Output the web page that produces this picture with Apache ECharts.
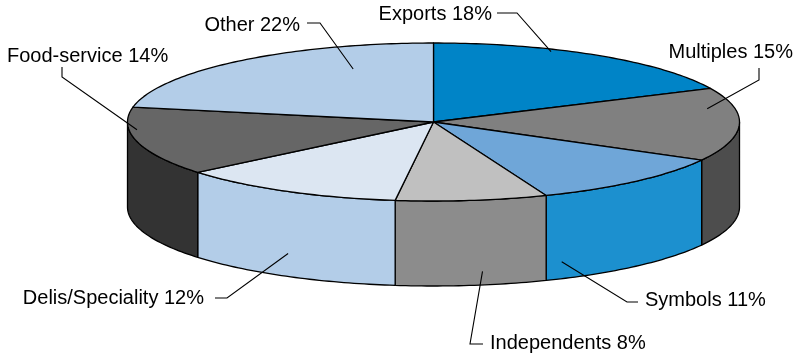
<!DOCTYPE html>
<html>
<head>
<meta charset="utf-8">
<script src="https://cdn.jsdelivr.net/npm/echarts@6/dist/echarts.min.js"></script>
<style>
  html, body { margin: 0; padding: 0; background: #ffffff; }
  #chart { width: 799px; height: 356px; }
</style>
</head>
<body>
<div id="chart"></div>
<script>
// Market share by channel, clockwise from 12 o'clock
const categories = ['Exports', 'Multiples', 'Symbols', 'Independents', 'Delis/Speciality', 'Food-service', 'Other'];
const shares = [18, 15, 11, 8, 12, 14, 22];

// Face colours: top surface and outer wall of each slice
const topColors  = ['#0084C7', '#808080', '#6FA6D8', '#C0C0C0', '#DCE6F2', '#666666', '#B3CDE8'];
const wallColors = ['#005E8E', '#4D4D4D', '#1C90CF', '#8C8C8C', '#B3CDE8', '#333333', '#8DA6C2'];

// Projected pie geometry (pixels)
const PIE = { cx: 433.5, cy: 122, rx: 306, ry: 79, depth: 85 };

// Label placement: where the leader touches the slice (fraction along the arc,
// radius on the top face or height on the wall), the leader bend and the text box
const labelLayout = [
  { t: 0.36, r: 0.97, bend: [[517, 13], [497, 13]], x: 492, y: 14,  align: 'right' },
  { t: 0.27, r: 0.91, bend: [[759, 80], [759, 68]], x: 793, y: 52,  align: 'right' },
  { t: 0.92, h: 0.80, bend: [[627, 302], [638, 302]], x: 645, y: 300, align: 'left' },
  { t: 0.43, h: 0.84, bend: [[470, 344], [483, 344]], x: 490, y: 343, align: 'left' },
  { t: 0.49, h: 0.73, bend: [[227, 298], [215, 298]], x: 204, y: 298, align: 'right' },
  { t: 0.67, r: 0.974, bend: [[62, 77], [62, 67]], x: 7, y: 56, align: 'left' },
  { t: 0.73, r: 0.72, bend: [[320, 23], [307, 23]], x: 300, y: 25, align: 'right' }
];

// Slice angles in degrees, measured clockwise from the top
const total = shares.reduce((a, b) => a + b, 0);
const slices = [];
let acc = 0;
shares.forEach(function (v) {
  const a0 = acc / total * 360;
  acc += v;
  slices.push({ a0: a0, a1: acc / total * 360 });
});

function pt(theta, r, dy) {
  const rad = theta * Math.PI / 180;
  return [PIE.cx + PIE.rx * r * Math.sin(rad), PIE.cy - PIE.ry * r * Math.cos(rad) + (dy || 0)];
}

function arc(a0, a1, r, dy) {
  const pts = [];
  const n = Math.max(2, Math.ceil(Math.abs(a1 - a0)));
  for (let k = 0; k <= n; k++) pts.push(pt(a0 + (a1 - a0) * k / n, r, dy));
  return pts;
}

const edge = { stroke: '#000000', lineWidth: 1.3, lineJoin: 'round' };

function renderWall(params) {
  const s = slices[params.dataIndex];
  const a0 = Math.max(s.a0, 90), a1 = Math.min(s.a1, 270);
  if (a1 <= a0) return null;
  const pts = arc(a0, a1, 1, 0).concat(arc(a1, a0, 1, PIE.depth));
  return {
    type: 'polygon',
    shape: { points: pts },
    style: Object.assign({ fill: wallColors[params.dataIndex] }, edge)
  };
}

function renderTop(params) {
  const s = slices[params.dataIndex];
  const pts = [[PIE.cx, PIE.cy]].concat(arc(s.a0, s.a1, 1, 0));
  return {
    type: 'polygon',
    shape: { points: pts },
    style: Object.assign({ fill: topColors[params.dataIndex] }, edge)
  };
}

function renderLabel(params) {
  const i = params.dataIndex;
  const s = slices[i];
  const L = labelLayout[i];
  const theta = s.a0 + (s.a1 - s.a0) * L.t;
  let anchor;
  if (L.h !== undefined) {
    anchor = pt(theta, 1, PIE.depth * L.h);
  } else {
    anchor = pt(theta, L.r, 0);
  }
  return {
    type: 'group',
    children: [
      {
        type: 'polyline',
        shape: { points: [anchor].concat(L.bend) },
        style: { stroke: '#000000', lineWidth: 1.1, fill: null }
      },
      {
        type: 'text',
        style: {
          text: categories[i] + ' ' + shares[i] + '%',
          x: L.x, y: L.y,
          fill: '#000000',
          font: '20px "Liberation Sans", Arial, sans-serif',
          align: L.align,
          verticalAlign: 'middle'
        }
      }
    ]
  };
}

const seriesData = shares.map(function (v, i) { return { name: categories[i], value: v }; });

const chart = echarts.init(document.getElementById('chart'), null, { renderer: 'canvas' });
chart.setOption({
  backgroundColor: '#ffffff',
  animation: false,
  series: [
    { type: 'custom', coordinateSystem: 'none', renderItem: renderWall, data: seriesData, z: 1, silent: true },
    { type: 'custom', coordinateSystem: 'none', renderItem: renderTop, data: seriesData, z: 2, silent: true },
    { type: 'custom', coordinateSystem: 'none', renderItem: renderLabel, data: seriesData, z: 3, silent: true }
  ]
});
</script>
</body>
</html>
